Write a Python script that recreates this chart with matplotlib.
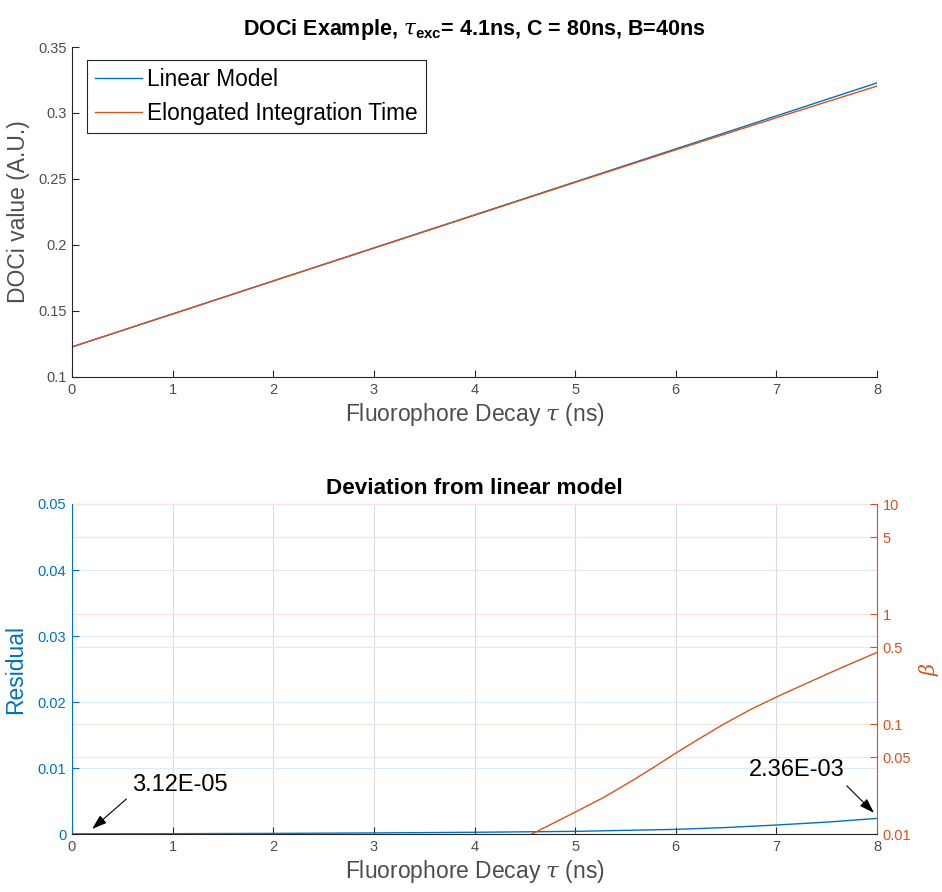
import matplotlib
matplotlib.use("Agg")
import matplotlib.pyplot as plt
import matplotlib.ticker as mticker

plt.rcParams['font.family'] = ['Liberation Sans', 'DejaVu Sans']
plt.rcParams['mathtext.fontset'] = 'custom'
plt.rcParams['mathtext.it'] = 'DejaVu Serif:italic'
plt.rcParams['mathtext.bf'] = 'Liberation Sans:bold'
plt.rcParams['mathtext.rm'] = 'Liberation Sans'

# ---------------- data ----------------
tau = [0, 1, 2, 3, 4, 5, 6, 7, 8]
linear_model = [0.1228, 0.1478, 0.1728, 0.1978, 0.2228, 0.2478, 0.2728, 0.2978, 0.3228]
elongated = [0.1228, 0.1477, 0.1727, 0.1976, 0.2225, 0.2474, 0.2721, 0.2964, 0.3204]

res_tau = [0, 1, 2, 3, 4, 5, 6, 6.5, 7, 7.5, 8]
residual = [3.12e-5, 5e-5, 9e-5, 1.6e-4, 2.6e-4, 4.0e-4, 7.0e-4, 9.8e-4, 1.36e-3, 1.8e-3, 2.36e-3]

beta_tau = [4.57, 4.78, 5.0, 5.28, 5.55, 5.78, 6.0, 6.24, 6.47, 6.74, 7.0, 7.3, 7.63, 8.0]
beta = [0.0100, 0.0125, 0.0158, 0.0214, 0.0299, 0.0403, 0.0543, 0.0741, 0.0989, 0.1349,
        0.1758, 0.2344, 0.320, 0.447]

left_ticks = [0, 0.01, 0.02, 0.03, 0.04, 0.05]
left_ticklabels = ['0', '0.01', '0.02', '0.03', '0.04', '0.05']
right_ticks = [0.01, 0.05, 0.1, 0.5, 1, 5, 10]
right_ticklabels = ['0.01', '0.05', '0.1', '0.5', '1', '5', '10']
top_yticks = [0.1, 0.15, 0.2, 0.25, 0.3, 0.35]
top_yticklabels = ['0.1', '0.15', '0.2', '0.25', '0.3', '0.35']
xticks = [0, 1, 2, 3, 4, 5, 6, 7, 8]

BLUE = '#0072BD'
ORANGE = '#D95319'
AXC = '#262626'
TICKC = '#4d4d4d'
TICKSIZE = 10.5
LABSIZE = 16.5

W, H = 942, 892
fig = plt.figure(figsize=(W / 100, H / 100), dpi=100)

def pos(l, t, r, b):
    return [l / W, (H - b) / H, (r - l) / W, (b - t) / H]

# ---------------- top axes ----------------
ax = fig.add_axes(pos(72, 47, 877, 377))
ax.plot(tau, linear_model, color=BLUE, lw=1.0, label='Linear Model')
ax.plot(tau, elongated, color=ORANGE, lw=1.0, label='Elongated Integration Time')
ax.set_xlim(0, 8)
ax.set_ylim(0.1, 0.35)
ax.set_xticks(xticks)
ax.set_yticks(top_yticks)
ax.set_yticklabels(top_yticklabels)
for s in ['top', 'right']:
    ax.spines[s].set_visible(False)
for s in ['left', 'bottom']:
    ax.spines[s].set_color(AXC)
    ax.spines[s].set_linewidth(0.8)
ax.tick_params(direction='in', length=5, width=0.8, colors=AXC, labelcolor=TICKC,
               labelsize=TICKSIZE, pad=4)
ax.set_xlabel(r'Fluorophore Decay $\tau$ (ns)', fontsize=LABSIZE, color=TICKC, labelpad=3)
ax.set_ylabel('DOCi value (A.U.)', fontsize=LABSIZE, color=TICKC, labelpad=6)
ax.set_title(r'DOCi Example, $\tau_{\mathbf{exc}}$= 4.1ns, C = 80ns, B=40ns',
             fontsize=15.5, fontweight='bold', color='black', pad=9)
leg = ax.legend(loc='upper left', bbox_to_anchor=(0.0186, 0.9606), fontsize=16.3,
                frameon=True, fancybox=False, handlelength=2.1, handletextpad=0.2,
                borderpad=0.35, labelspacing=0.5, borderaxespad=0)
leg.get_frame().set_edgecolor(AXC)
leg.get_frame().set_linewidth(0.8)
leg.get_frame().set_alpha(1)

# ---------------- bottom axes ----------------
bx = fig.add_axes(pos(72, 504, 877, 834))
bx.plot(res_tau, residual, color=BLUE, lw=1.0, zorder=3)
bx.set_xlim(0, 8)
bx.set_ylim(0, 0.05)
bx.set_xticks(xticks)
bx.set_yticks(left_ticks)
bx.set_yticklabels(left_ticklabels)
bx.grid(True, axis='x', color='#dcdcdc', lw=0.8)
bx.grid(True, axis='y', color='#dbeaf6', lw=0.8)
for s in ['top', 'right', 'left', 'bottom']:
    bx.spines[s].set_visible(False)
bx.tick_params(axis='x', direction='in', length=5, width=0.8, colors=AXC, labelcolor=TICKC,
               labelsize=TICKSIZE, pad=4)
bx.tick_params(axis='y', direction='in', length=5, width=0.8, colors=BLUE, labelcolor=BLUE,
               labelsize=TICKSIZE, pad=4)
bx.set_xlabel(r'Fluorophore Decay $\tau$ (ns)', fontsize=LABSIZE, color=TICKC, labelpad=3)
bx.set_ylabel('Residual', fontsize=LABSIZE, color=BLUE, labelpad=8)
bx.set_title('Deviation from linear model', fontsize=16.2, fontweight='bold', color='black', pad=7)

bx2 = bx.twinx()
bx2.set_yscale('log')
bx2.plot(beta_tau, beta, color=ORANGE, lw=1.0)
bx2.set_ylim(0.01, 10)
bx2.set_yticks(right_ticks)
bx2.set_yticklabels(right_ticklabels)
bx2.yaxis.set_minor_locator(mticker.NullLocator())
bx2.grid(True, axis='y', color='#fae3da', lw=0.8)
bx2.set_axisbelow(True)
bx2.spines['top'].set_visible(False)
bx2.spines['right'].set_color(ORANGE)
bx2.spines['left'].set_color(BLUE)
bx2.spines['bottom'].set_color(AXC)
for s in ['left', 'right', 'bottom']:
    bx2.spines[s].set_linewidth(0.8)
bx2.tick_params(axis='y', direction='in', length=5, width=0.8, colors=ORANGE, labelcolor=ORANGE,
                labelsize=TICKSIZE, pad=4)
bx2.set_ylabel(r'$\beta$', fontsize=15, color=ORANGE, labelpad=4)

# annotations
arrow_props = dict(arrowstyle='-|>,head_length=0.9,head_width=0.3', color='black', lw=0.8,
                   shrinkA=0, shrinkB=0)
bx.annotate('', xy=(0.2, 0.00076), xytext=(0.54, 0.0053), arrowprops=arrow_props)
bx.text(0.6, 0.0058, '3.12E-05', fontsize=17, color='black', ha='left', va='bottom')
bx.annotate('', xy=(7.97, 0.0032), xytext=(7.70, 0.0073), arrowprops=arrow_props)
bx.text(7.68, 0.0081, '2.36E-03', fontsize=17, color='black', ha='right', va='bottom')

fig.savefig('out.png', dpi=100, facecolor='white')
